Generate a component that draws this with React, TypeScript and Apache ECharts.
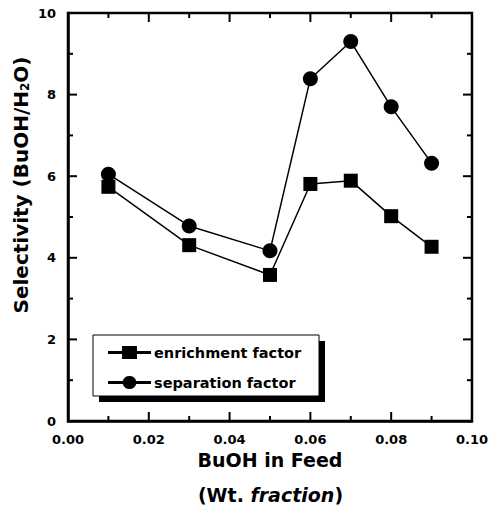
import React, { useEffect, useRef } from "react";
import * as echarts from "echarts";

const xValues = [0.01, 0.03, 0.05, 0.06, 0.07, 0.08, 0.09];
const enrichment = [5.74, 4.31, 3.58, 5.81, 5.89, 5.02, 4.27];
const separation = [6.05, 4.78, 4.17, 8.39, 9.3, 7.7, 6.32];
const seriesNames = ["enrichment factor", "separation factor"];

const xMajorTicks = [0.02, 0.04, 0.06, 0.08];
const xMinorTicks = [0.01, 0.03, 0.05, 0.07, 0.09];
const yMajorTicks = [2, 4, 6, 8];
const yMinorTicks = [1, 3, 5, 7, 9];

const FONT = "'DejaVu Sans', Arial, sans-serif";
const MAJOR_LEN = 9;
const MINOR_LEN = 5;
const squareIcon =
  "path://M0,5 L14,5 L14,0 L29,0 L29,5 L43,5 L43,8 L29,8 L29,13 L14,13 L14,8 L0,8 Z";
const circleIcon =
  "path://M0,5 L14.8,5 A7,7 0 0 1 28.2,5 L43,5 L43,8 L28.2,8 A7,7 0 0 1 14.8,8 L0,8 Z";

// [x, y, isMajor, kind(0 = x tick, 1 = y tick)]
const tickData = [
  ...xMajorTicks.map((v) => [v, 0, 1, 0]),
  ...xMinorTicks.map((v) => [v, 0, 0, 0]),
  ...yMajorTicks.map((v) => [0, v, 1, 1]),
  ...yMinorTicks.map((v) => [0, v, 0, 1]),
];

export default function App() {
  const ref = useRef<HTMLDivElement>(null);
  useEffect(() => {
    if (!ref.current) return;
    const chart = echarts.init(ref.current, null, { renderer: "svg" });
    const labelStyle = { color: "#000", fontFamily: FONT, fontWeight: "bold" as const, fontSize: 13 };
    const tickStyle = { stroke: "#000", lineWidth: 2 };
    chart.setOption({
      animation: false,
      backgroundColor: "#fff",
      grid: { left: 68, right: 18, top: 13, bottom: 90, show: true, borderColor: "#000", borderWidth: 2.5, backgroundColor: "transparent" },
      xAxis: {
        type: "value",
        min: 0,
        max: 0.1,
        interval: 0.02,
        axisLine: { show: true, onZero: false, lineStyle: { color: "#000", width: 2.5 } },
        axisTick: { show: false },
        splitLine: { show: false },
        axisLabel: { ...labelStyle, margin: 12, formatter: (v: number) => v.toFixed(2) },
        name: "BuOH in Feed",
        nameLocation: "middle",
        nameGap: 27,
        nameTextStyle: { color: "#000", fontFamily: FONT, fontWeight: "bold", fontSize: 19 },
      },
      yAxis: {
        type: "value",
        min: 0,
        max: 10,
        interval: 2,
        axisLine: { show: true, onZero: false, lineStyle: { color: "#000", width: 2.5 } },
        axisTick: { show: false },
        splitLine: { show: false },
        axisLabel: { ...labelStyle, margin: 12 },
      },
      legend: {
        orient: "vertical",
        left: 108,
        top: 345,
        padding: 0,
        itemWidth: 43,
        itemHeight: 13,
        itemGap: 15,
        z: 10,
        data: [
          { name: seriesNames[0], icon: squareIcon },
          { name: seriesNames[1], icon: circleIcon },
        ],
        textStyle: { color: "#000", fontFamily: FONT, fontWeight: "bold", fontSize: 14.5, padding: [0, 0, 0, -2] },
        itemStyle: { color: "#000", borderWidth: 0 },
      },
      graphic: [
        { type: "rect", z: 5, shape: { x: 99, y: 341, width: 226, height: 61 }, style: { fill: "#000" } },
        { type: "rect", z: 6, shape: { x: 93, y: 335, width: 226, height: 61 }, style: { fill: "#fff", stroke: "#000", lineWidth: 1 } },
        {
          type: "text",
          x: 21,
          y: 185,
          rotation: Math.PI / 2,
          style: {
            text: "Selectivity (BuOH/H{sub|2}O)",
            align: "center",
            verticalAlign: "middle",
            fill: "#000",
            font: `bold 20px ${FONT}`,
            rich: {
              sub: { fontFamily: FONT, fontWeight: "bold", fontSize: 12, fill: "#000", verticalAlign: "bottom" },
            },
          },
        },
        {
          type: "text",
          x: 270.5,
          y: 495,
          style: {
            text: "(Wt. {i|fraction})",
            align: "center",
            verticalAlign: "middle",
            fill: "#000",
            font: `bold 19px ${FONT}`,
            rich: { i: { fontStyle: "italic", fontWeight: "bold", fontSize: 19, fontFamily: FONT, fill: "#000" } },
          },
        },
      ],
      series: [
        {
          name: "ticks",
          type: "custom",
          silent: true,
          clip: false,
          z: 4,
          encode: { x: 0, y: 1 },
          data: tickData,
          renderItem: (params: any, api: any) => {
            const cs = params.coordSys;
            const len = api.value(2) ? MAJOR_LEN : MINOR_LEN;
            if (api.value(3) === 0) {
              const x = api.coord([api.value(0), 0])[0];
              const yb = cs.y + cs.height;
              return {
                type: "group",
                children: [
                  { type: "line", shape: { x1: x, y1: yb, x2: x, y2: yb - len }, style: tickStyle },
                  { type: "line", shape: { x1: x, y1: cs.y, x2: x, y2: cs.y + len }, style: tickStyle },
                ],
              };
            }
            const y = api.coord([0, api.value(1)])[1];
            const xr = cs.x + cs.width;
            return {
              type: "group",
              children: [
                { type: "line", shape: { x1: cs.x, y1: y, x2: cs.x + len, y2: y }, style: tickStyle },
                { type: "line", shape: { x1: xr, y1: y, x2: xr - len, y2: y }, style: tickStyle },
              ],
            };
          },
        },
        {
          name: seriesNames[0],
          type: "line",
          data: xValues.map((x, i) => [x, enrichment[i]]),
          symbol: "rect",
          symbolSize: 14,
          itemStyle: { color: "#000" },
          lineStyle: { color: "#000", width: 1.5 },
          z: 3,
        },
        {
          name: seriesNames[1],
          type: "line",
          data: xValues.map((x, i) => [x, separation[i]]),
          symbol: "circle",
          symbolSize: 15,
          itemStyle: { color: "#000" },
          lineStyle: { color: "#000", width: 1.5 },
          z: 3,
        },
      ],
    });
    return () => chart.dispose();
  }, []);
  return <div ref={ref} style={{ width: 491, height: 511, position: "absolute", left: 0, top: 0 }} />;
}
